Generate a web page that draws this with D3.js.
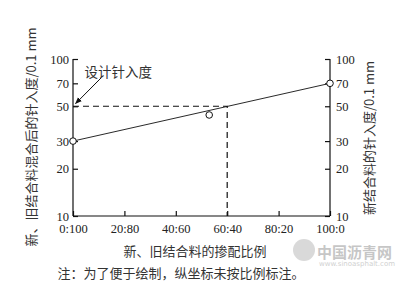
<!DOCTYPE html>
<html>
<head>
<meta charset="utf-8">
<script src="https://cdn.jsdelivr.net/npm/d3@7"></script>
<style>
  body { margin: 0; background: #fff; }
  svg { display: block; }
</style>
</head>
<body>
<svg width="405" height="282"></svg>
<script>
// mix ratio new:old (share of new binder, %)
var ratioTicks = [0, 20, 40, 60, 80, 100];
var ratioLabels = ["0:100", "20:80", "40:60", "60:40", "80:20", "100:0"];
var penTicks = [10, 20, 30, 50, 70, 100];
// blend line end points and the measured point
var lineX = [0, 100];
var lineY = [30, 70];
var measX = [0, 53, 100];
var measY = [30, 44, 70];
var designPen = 50;
var designRatio = 60;

var serif = "'Liberation Serif', 'DejaVu Serif', serif";
var cjk = "'Noto Sans CJK SC', sans-serif";

var svg = d3.select("svg");
var margin = {left: 73, right: 75, top: 59, bottom: 66},
    width = 405 - margin.left - margin.right,
    height = 282 - margin.top - margin.bottom;

var g = svg.append("g").attr("transform", "translate(" + margin.left + "," + margin.top + ")");

var x = d3.scaleLinear().domain([0, 100]).range([0, width]);
var y = d3.scaleLog().domain([10, 100]).range([height, 0]);

// axes
var xAxis = d3.axisBottom(x).tickValues(ratioTicks).tickSize(-5).tickPadding(8)
    .tickFormat(function(d, i) { return ratioLabels[i]; });
var yLeft = d3.axisLeft(y).tickValues(penTicks).tickSize(-5).tickPadding(4).tickFormat(d3.format("d"));
var yRight = d3.axisRight(y).tickValues(penTicks).tickSize(-5).tickPadding(6).tickFormat(d3.format("d"));

g.append("g").attr("transform", "translate(0," + height + ")").call(xAxis)
    .call(function(s) { s.select(".domain").attr("d", "M0,0H" + width); });
g.append("g").call(yLeft)
    .call(function(s) { s.select(".domain").attr("d", "M0," + height + "V0"); });
g.append("g").attr("transform", "translate(" + width + ",0)").call(yRight)
    .call(function(s) { s.select(".domain").attr("d", "M0," + height + "V0"); });
g.selectAll(".domain, .tick line").attr("stroke", "#111").attr("stroke-width", 1.2);
g.selectAll(".tick text").attr("font-family", serif).attr("font-size", 12.5).attr("fill", "#222");

// dashed design lines
g.append("path")
    .attr("d", "M0," + y(designPen) + "H" + x(designRatio) + "V" + height)
    .attr("fill", "none").attr("stroke", "#111").attr("stroke-width", 1.2)
    .attr("stroke-dasharray", "6,4");

// blend line
var line = d3.line().x(function(d) { return x(d[0]); }).y(function(d) { return y(d[1]); });
g.append("path").datum(d3.zip(lineX, lineY))
    .attr("d", line).attr("fill", "none").attr("stroke", "#111").attr("stroke-width", 0.9);

g.selectAll("circle.pt").data(d3.zip(measX, measY)).enter().append("circle")
    .attr("class", "pt")
    .attr("cx", function(d) { return x(d[0]); })
    .attr("cy", function(d) { return y(d[1]); })
    .attr("r", 3.3).attr("fill", "#fff").attr("stroke", "#111").attr("stroke-width", 1);

// annotation
svg.append("defs").append("marker").attr("id", "arr")
    .attr("viewBox", "0 0 10 10").attr("refX", 9).attr("refY", 5)
    .attr("markerWidth", 7).attr("markerHeight", 7).attr("orient", "auto")
    .append("path").attr("d", "M0,1L10,5L0,9Z").attr("fill", "#111");
g.append("line")
    .attr("x1", x(11)).attr("y1", y(76))
    .attr("x2", x(1)).attr("y2", y(52))
    .attr("stroke", "#111").attr("stroke-width", 1).attr("marker-end", "url(#arr)");
g.append("text").attr("font-family", cjk).attr("fill", "#333")
    .attr("x", x(4.5)).attr("y", 18).attr("font-size", 13.5)
    .text("设计针入度");

// axis titles
function title(txt, tx, ty, rot) {
  svg.append("text").attr("font-family", cjk).attr("fill", "#333").attr("font-size", 13)
      .attr("transform", "translate(" + tx + "," + ty + ")" + (rot ? " rotate(-90)" : ""))
      .attr("text-anchor", "middle").attr("dominant-baseline", "central")
      .text(txt);
}
title("新、旧结合料混合后的针入度/0.1 mm", 30, 137, true);
title("新结合料的针入度/0.1 mm", 368, 138, true);
title("新、旧结合料的掺配比例", 195, 250, false);
title("注：为了便于绘制，纵坐标未按比例标注。", 181, 272, false);

// watermark
var wm = svg.append("g").attr("opacity", 0.55);
wm.append("circle").attr("cx", 304).attr("cy", 250).attr("r", 11).attr("fill", "#bbb");
wm.append("text").attr("x", 317).attr("y", 251).attr("font-size", 15).attr("font-weight", "bold")
    .attr("font-family", cjk).attr("fill", "#999").attr("dominant-baseline", "central")
    .text("中国沥青网");
wm.append("text").attr("x", 319).attr("y", 264).attr("font-size", 7)
    .attr("font-family", "DejaVu Sans").attr("fill", "#aaa").attr("dominant-baseline", "central")
    .text("www.sinoasphalt.com");
</script>
</body>
</html>
